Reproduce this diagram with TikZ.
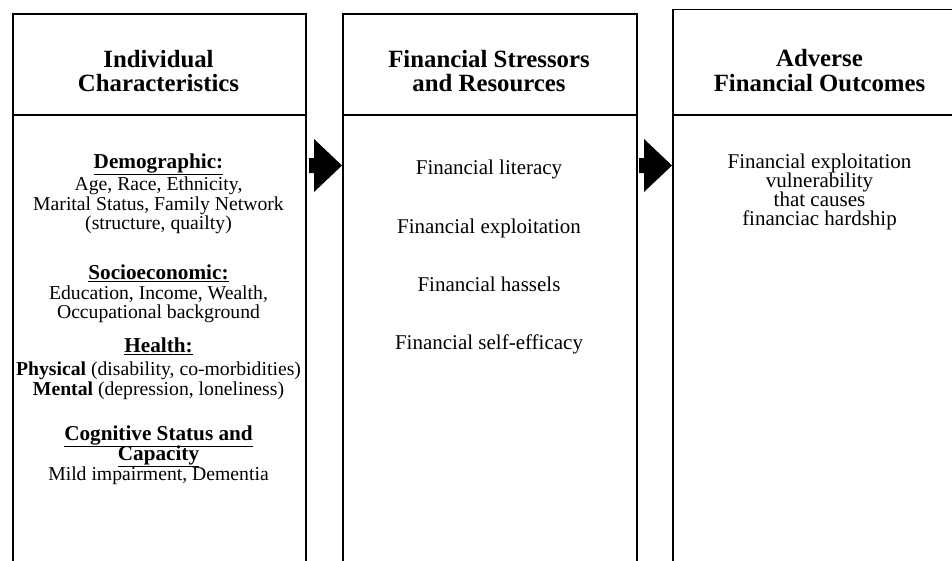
\documentclass[tikz,border=0pt]{standalone}
\usepackage{fontspec}
\setmainfont{Liberation Serif}
\usetikzlibrary{calc}
\tikzset{
  panel/.style={draw=black, line width=1.5pt, rectangle, inner sep=0pt, anchor=north west, minimum height=620pt},
  ttl/.style={font=\fontsize{24.8}{25}\selectfont\bfseries, anchor=base, inner sep=0pt},
  hd/.style={font=\fontsize{21.2}{22}\selectfont\bfseries, anchor=base, inner sep=0pt},
  bd/.style={font=\fontsize{19.7}{21}\selectfont, anchor=base, inner sep=0pt},
  bt/.style={font=\fontsize{21}{22}\selectfont, anchor=base, inner sep=0pt},
  blockarrow/.style={fill=black, draw=none}
}
\newcommand{\ul}[1]{\underline{#1}}
\begin{document}
\begin{tikzpicture}[x=1pt,y=-1pt]
\useasboundingbox (0,0) rectangle (952,560);
\clip (0,0) rectangle (952,560);
% panels
\node[panel, minimum width=293pt] (b1) at (12,13) {};
\node[panel, minimum width=294pt] (b2) at (342,13) {};
\node[panel, minimum width=294pt] (b3) at (672,8.5) {};
% header separators
\draw[line width=1.5pt] (b1.west |- 0,115) -- (b1.east |- 0,115);
\draw[line width=1.5pt] (b2.west |- 0,115) -- (b2.east |- 0,115);
\draw[line width=1.5pt] (b3.west |- 0,115) -- (b3.east |- 0,115);
% titles
\node[ttl] (t1a) at (158.5,67) {Individual};
\node[ttl] (t1b) at (158.5,91) {Characteristics};
\node[ttl] (t2a) at (489,67) {Financial Stressors};
\node[ttl] (t2b) at (489,91) {and Resources};
\node[ttl] (t3a) at (819.5,66) {Adverse};
\node[ttl] (t3b) at (819.5,91) {Financial Outcomes};
% box 1 body
\node[hd] (h1) at (158.5,168) {\ul{Demographic:}};
\node[bd] (l1) at (158.5,190.5) {Age, Race, Ethnicity,};
\node[bd] (l2) at (158.5,210.5) {Marital Status, Family Network};
\node[bd] (l3) at (158.5,229.5) {(structure, quailty)};
\node[hd] (h2) at (158.5,279.5) {\ul{Socioeconomic:}};
\node[bd] (l4) at (158.5,299) {Education, Income, Wealth,};
\node[bd] (l5) at (158.5,318.5) {Occupational background};
\node[hd] (h3) at (158.5,352) {\ul{Health:}};
\node[bd] (l6) at (158.5,375.5) {\textbf{Physical} (disability, co-morbidities)};
\node[bd] (l7) at (158.5,395) {\textbf{Mental} (depression, loneliness)};
\node[hd] (h4) at (158.5,440) {\ul{Cognitive Status and}};
\node[hd] (h5) at (158.5,460) {\ul{Capacity}};
\node[bd] (l8) at (158.5,480) {Mild impairment, Dementia};
% box 2 body
\node[bt] (m1) at (489,174.5) {Financial literacy};
\node[bt] (m2) at (489,233.5) {Financial exploitation};
\node[bt] (m3) at (489,291.5) {Financial hassels};
\node[bt] (m4) at (489,349.5) {Financial self-efficacy};
% box 3 body
\node[bt] (r1) at (819.5,168.5) {Financial exploitation};
\node[bt] (r2) at (819.5,187.5) {vulnerability};
\node[bt] (r3) at (819.5,206.5) {that causes};
\node[bt] (r4) at (819.5,225.5) {financiac hardship};
% block arrows
\coordinate (tip1) at (b2.west |- 0,165.5);
\coordinate (tip2) at (b3.west |- 0,165.5);
\fill[blockarrow, shift={(tip1)}] (-33,-7.5) -- (-28,-7.5) -- (-28,-26.5) -- (0,0) -- (-28,26.5) -- (-28,7.5) -- (-33,7.5) -- cycle;
\fill[blockarrow, shift={(tip2)}] (-33,-7.5) -- (-28,-7.5) -- (-28,-26.5) -- (0,0) -- (-28,26.5) -- (-28,7.5) -- (-33,7.5) -- cycle;
\end{tikzpicture}
\end{document}
